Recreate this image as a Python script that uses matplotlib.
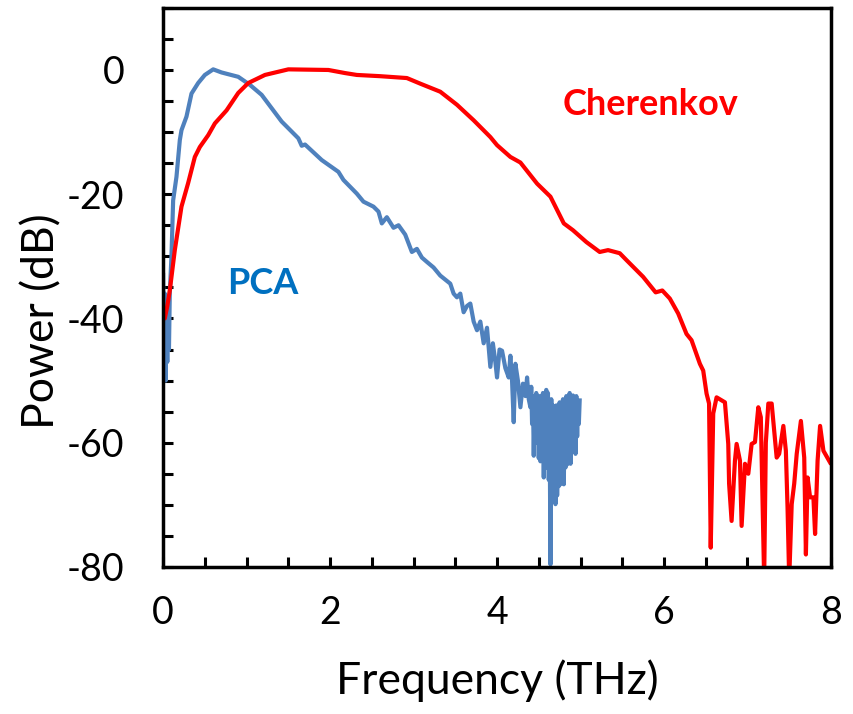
import numpy as np
import matplotlib
matplotlib.use('Agg')
import matplotlib.pyplot as plt
from matplotlib.ticker import MultipleLocator

plt.rcParams['font.family'] = ['Lato', 'DejaVu Sans']
plt.rcParams['axes.unicode_minus'] = False

# Cherenkov spectrum (THz, dB)
cher_f = [0.0, 0.02, 0.05, 0.08, 0.14, 0.22, 0.3, 0.38, 0.44, 0.54, 0.62, 0.76, 0.9, 1.02,
          1.22, 1.5, 1.98, 2.18, 2.32, 2.6, 2.92, 3.08, 3.32, 3.52, 3.72, 3.92, 4.0, 4.16,
          4.28, 4.48, 4.64, 4.8, 4.91, 5.07, 5.23, 5.33, 5.47, 5.55, 5.75, 5.9, 5.98, 6.07,
          6.17, 6.27, 6.33, 6.43, 6.47, 6.51, 6.54, 6.56, 6.59, 6.63, 6.73, 6.77, 6.78, 6.81,
          6.85, 6.87, 6.91, 6.93, 6.97, 7.01, 7.05, 7.09, 7.13, 7.16, 7.2, 7.22, 7.25, 7.29,
          7.35, 7.38, 7.43, 7.46, 7.48, 7.5, 7.53, 7.56, 7.59, 7.64, 7.68, 7.7, 7.72, 7.75,
          7.79, 7.81, 7.84, 7.87, 7.91, 7.99]
cher_p = [-39.2, -40.0, -38.0, -35.5, -29.0, -22.0, -18.2, -14.0, -12.4, -10.5, -8.6, -6.5, -3.7, -2.1,
          -0.8, 0.1, 0.0, -0.5, -0.8, -1.0, -1.3, -2.2, -3.5, -5.6, -8.1, -10.8, -12.1, -14.0,
          -14.9, -18.3, -20.4, -24.7, -25.8, -27.7, -29.3, -29.0, -29.5, -30.6, -33.3, -35.8, -35.5, -36.8,
          -39.2, -42.5, -43.5, -47.3, -48.4, -52.1, -53.7, -76.9, -55.3, -52.7, -53.5, -60.2, -66.6, -72.6,
          -62.9, -60.2, -62.9, -73.4, -63.4, -65.0, -60.2, -59.9, -54.3, -55.9, -82.0, -60.0, -53.7, -53.7,
          -62.4, -61.8, -57.3, -61.3, -70.4, -82.0, -69.9, -66.6, -61.8, -56.5, -62.4, -78.0, -65.6, -68.8,
          -68.8, -74.7, -62.9, -57.3, -61.3, -63.2]

# PCA spectrum (THz, dB)
pca_f = [0.0, 0.01, 0.02, 0.03, 0.04, 0.05, 0.06, 0.07, 0.08, 0.1, 0.12, 0.16, 0.2, 0.22,
         0.28, 0.34, 0.42, 0.5, 0.6, 0.7, 0.9, 1.04, 1.18, 1.42, 1.62, 1.66, 1.7, 1.9,
         2.1, 2.16, 2.32, 2.4, 2.52, 2.58, 2.62, 2.68, 2.76, 2.82, 2.9, 2.98, 3.04, 3.1,
         3.16, 3.24, 3.32, 3.44, 3.48, 3.52, 3.56, 3.6, 3.64, 3.68, 3.72, 3.76, 3.8, 3.84,
         3.88, 3.92, 3.95, 3.98, 4.0, 4.03, 4.06, 4.1, 4.14, 4.16, 4.18, 4.2, 4.22, 4.25,
         4.28, 4.31, 4.34, 4.36, 4.38, 4.4, 4.41, 4.42, 4.43, 4.44, 4.45, 4.46, 4.47, 4.48,
         4.49, 4.5, 4.51, 4.52, 4.53, 4.54, 4.55, 4.56, 4.57, 4.58, 4.59, 4.6, 4.61, 4.62,
         4.63, 4.64, 4.65, 4.66, 4.67, 4.68, 4.69, 4.7, 4.71, 4.72, 4.73, 4.74, 4.75, 4.76,
         4.77, 4.78, 4.79, 4.8, 4.81, 4.82, 4.83, 4.84, 4.85, 4.86, 4.87, 4.88, 4.89, 4.9,
         4.91, 4.92, 4.93, 4.94, 4.95, 4.96, 4.97, 4.98, 4.99]
pca_p = [-33.0, -48.0, -36.0, -50.0, -40.0, -47.0, -38.0, -45.0, -36.0, -30.0, -21.0, -17.2, -11.3, -9.7,
         -7.5, -3.8, -2.1, -0.8, 0.1, -0.4, -1.1, -2.4, -4.0, -8.3, -11.0, -12.2, -12.0, -14.5,
         -16.4, -17.7, -19.9, -21.2, -22.0, -22.8, -24.7, -23.7, -25.4, -25.0, -26.5, -29.3, -28.8, -30.2,
         -30.9, -31.8, -33.1, -34.4, -36.0, -36.6, -36.0, -39.0, -38.0, -37.6, -40.5, -41.9, -40.5, -44.0,
         -41.5, -47.8, -44.0, -47.0, -49.5, -45.0, -45.2, -48.0, -49.5, -46.0, -50.0, -56.7, -47.3, -50.0,
         -54.3, -50.5, -52.5, -49.5, -53.0, -54.3, -51.0, -57.0, -52.5, -62.1, -54.0, -58.5, -52.0, -60.0,
         -53.5, -62.5, -52.5, -63.0, -54.0, -60.0, -52.0, -65.6, -53.0, -63.0, -51.5, -64.0, -52.0, -66.0,
         -56.0, -79.6, -53.0, -67.0, -54.0, -68.0, -55.5, -69.9, -54.0, -68.5, -56.0, -67.0, -53.5, -66.7,
         -55.0, -65.0, -53.0, -66.7, -54.5, -64.0, -52.5, -63.5, -53.5, -62.0, -52.0, -63.4, -54.5, -61.0,
         -52.4, -60.0, -53.0, -61.8, -52.5, -59.0, -53.5, -57.0, -53.2]

fig = plt.figure(figsize=(8.54, 7.14), dpi=100)
ax = fig.add_axes([0.191, 0.206, 0.782, 0.783])

ax.plot(pca_f, pca_p, color='#4F81BD', lw=3.0)
ax.plot(cher_f, cher_p, color='#FF0000', lw=3.0)

ax.set_xlim(0, 8)
ax.set_ylim(-80, 10)
ax.xaxis.set_major_locator(MultipleLocator(2))
ax.xaxis.set_minor_locator(MultipleLocator(0.5))
ax.yaxis.set_major_locator(MultipleLocator(20))
ax.yaxis.set_minor_locator(MultipleLocator(5))
ax.set_yticks([-80, -60, -40, -20, 0])
ax.tick_params(which='both', direction='in', width=2.2, length=7, labelsize=27,
               top=False, right=False)
ax.tick_params(axis='y', pad=28)
ax.tick_params(axis='x', pad=20)
for s in ax.spines.values():
    s.set_linewidth(2.5)

ax.set_xlabel('Frequency (THz)', fontsize=32)
ax.set_ylabel('Power (dB)', fontsize=32)
ax.xaxis.set_label_coords(0.5, -0.165)
ax.yaxis.set_label_coords(-0.15, 0.44)

ax.text(1.19, -34.4, 'PCA', color='#0070C0', fontsize=26, fontweight='bold',
        ha='center', va='center')
ax.text(5.84, -5.5, 'Cherenkov', color='#FF0000', fontsize=26, fontweight='bold',
        ha='center', va='center')

fig.savefig('out.png', dpi=100)
